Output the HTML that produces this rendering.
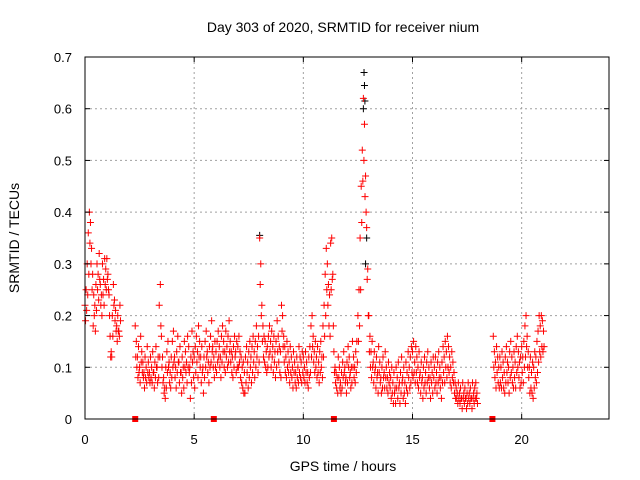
<!DOCTYPE html>
<html><head><meta charset="utf-8"><style>
body{margin:0;background:#fff}
svg{display:block;font-family:"Liberation Sans",sans-serif}
</style></head><body>
<svg id="chart" width="640" height="480">
<text x="343" y="32" font-size="14" text-anchor="middle">Day 303 of 2020, SRMTID for receiver nium</text>
<text x="343" y="471" font-size="14" text-anchor="middle">GPS time / hours</text>
<text transform="translate(19,238) rotate(-90)" font-size="14" text-anchor="middle">SRMTID / TECUs</text>
<g id="grid"></g><g id="marks"></g><g id="axes"></g>
</svg>
<script>
const hourStarts=[0,1,2.3,3,4,5,6,7,8,9,10,11,12,13,14,15,16,17,18.7,19,20,21];
const seriesA=[
[.22,.25,.30,.36,.40,.38,.33,.28,.24,.22,.26,.30,.28,.32,.26,.24,.30,.27,.31,.29],
[.31,.28,.24,.16,.13,.20,.26,.23,.21,.18,.20,.17,.22],
[.18,.15,.12,.14,.10,.16,.13,.11,.09,.12,.10,.14,.11,.09],
[.12,.10,.13,.09,.11,.14,.10,.12,.22,.26,.16,.12,.08,.06,.10,.13,.15,.11,.09,.12],
[.15,.17,.12,.10,.13,.16,.11,.14,.09,.12,.10,.15,.13,.11,.16,.14,.10,.12,.17,.13],
[.12,.14,.16,.13,.18,.15,.12,.14,.10,.12,.15,.17,.13,.11,.14,.16,.19,.14,.12,.15],
[.13,.15,.17,.14,.12,.16,.18,.15,.13,.17,.14,.16,.19,.15,.13,.12,.14,.16,.13,.15],
[.14,.16,.13,.12,.10,.11,.09,.12,.14,.11,.13,.15,.12,.14,.16,.13,.15,.18,.14,.16],
[.35,.30,.22,.18,.16,.15,.13,.14,.16,.18,.15,.17,.14,.16,.13,.15,.19,.16,.14,.13],
[.22,.20,.16,.14,.12,.15,.13,.11,.14,.12,.10,.13,.11,.09,.12,.10,.14,.12,.11,.13],
[.12,.10,.13,.11,.09,.12,.14,.18,.20,.16,.13,.15,.12,.14,.11,.13,.15,.12,.18,.22],
[.28,.33,.30,.26,.24,.34,.35,.28,.13,.10,.09,.08,.12,.10,.07,.09,.11,.13,.10,.08],
[.11,.14,.12,.09,.10,.15,.12,.10,.13,.15,.20,.25,.35,.45,.52,.62,.57,.47,.37,.29],
[.20,.16,.13,.15,.11,.13,.10,.12,.09,.14,.11,.08,.10,.12,.09,.13,.10,.08,.11,.09],
[.08,.10,.07,.09,.06,.10,.08,.11,.07,.09,.12,.08,.10,.07,.11,.09,.13,.10,.12,.14],
[.13,.15,.11,.14,.12,.10,.13,.09,.11,.08,.10,.12,.09,.11,.13,.10,.08,.11,.09,.12],
[.10,.12,.09,.11,.13,.10,.08,.11,.14,.12,.15,.13,.16,.14,.12,.10,.13,.11,.09,.07],
[.06,.05,.07,.05,.06,.04,.07,.05,.06,.04,.05,.07,.05,.06,.04,.07,.05,.06,.07,.05],
[.16,.13,.11,.14,.12,.10],
[.12,.10,.13,.11,.09,.12,.14,.11,.10,.13,.15,.12,.10,.13,.11,.14,.16,.13,.11,.12],
[.14,.12,.15,.18,.20,.16,.13,.10,.12,.09,.11,.10,.13,.12,.15,.17,.20,.18,.20,.19],
[.17]];
const seriesB=[
[.19,.21,.24,.28,.34,.30,.25,.18,.20,.17,.21,.25,.23,.27,.22,.20,.24,.22,.26,.25],
[.27,.25,.20,.12,.12,.16,.22,.19,.17,.15,.17,.16,.19],
[.12,.10,.08,.09,.07,.11,.09,.08,.06,.08,.07,.09,.08,.07],
[.08,.07,.09,.06,.08,.10,.07,.08,.12,.18,.10,.07,.05,.04,.06,.09,.10,.07,.06,.08],
[.10,.11,.08,.06,.09,.11,.07,.09,.05,.08,.06,.10,.09,.07,.10,.09,.04,.07,.11,.08],
[.06,.09,.11,.08,.12,.10,.07,.09,.05,.08,.10,.12,.09,.07,.10,.11,.13,.10,.08,.10],
[.09,.11,.12,.10,.08,.11,.13,.10,.09,.12,.10,.11,.13,.11,.09,.08,.10,.12,.09,.10],
[.10,.11,.08,.07,.06,.05,.05,.07,.09,.06,.08,.10,.07,.09,.11,.08,.10,.12,.09,.11],
[.26,.20,.15,.12,.11,.10,.09,.10,.12,.13,.10,.12,.09,.11,.08,.10,.13,.11,.09,.08],
[.17,.14,.11,.09,.08,.10,.09,.07,.09,.08,.06,.09,.07,.06,.08,.07,.09,.08,.07,.09],
[.08,.07,.09,.07,.06,.08,.09,.12,.14,.11,.09,.10,.08,.09,.07,.09,.10,.08,.12,.16],
[.20,.25,.22,.18,.16,.25,.27,.18,.09,.07,.06,.05,.08,.06,.05,.06,.08,.09,.07,.05],
[.07,.10,.08,.06,.07,.10,.08,.07,.09,.11,.15,.18,.25,.38,.46,.50,.43,.40,.27,.20],
[.13,.10,.08,.10,.07,.09,.06,.08,.05,.09,.07,.05,.06,.08,.06,.08,.06,.05,.07,.06],
[.04,.05,.03,.05,.03,.06,.04,.06,.03,.05,.07,.04,.05,.03,.06,.05,.08,.06,.07,.09],
[.08,.09,.07,.09,.07,.06,.08,.05,.07,.04,.06,.07,.05,.07,.08,.06,.04,.07,.05,.08],
[.06,.07,.05,.07,.08,.06,.04,.07,.09,.07,.10,.08,.10,.09,.07,.06,.08,.07,.05,.04],
[.04,.03,.04,.03,.04,.02,.04,.03,.04,.02,.03,.04,.03,.04,.02,.04,.03,.04,.04,.03],
[.10,.08,.06,.09,.07,.06],
[.07,.06,.08,.06,.05,.07,.09,.07,.05,.08,.09,.07,.06,.08,.06,.09,.10,.08,.06,.07],
[.09,.07,.10,.12,.14,.10,.08,.05,.06,.05,.04,.06,.08,.07,.09,.11,.13,.12,.14,.13],
[.14]];
const blackTimes=[12.78,12.8,12.82,12.75,12.85,8.0,12.9];
const blackValues=[0.67,0.645,0.615,0.6,0.3,0.355,0.35];
const gapTimes=[2.3,5.9,11.4,18.66];
const xTicks=[0,5,10,15,20];
const yTicks=[0,0.1,0.2,0.3,0.4,0.5,0.6,0.7];
const yTickLabels=["0","0.1","0.2","0.3","0.4","0.5","0.6","0.7"];
const STEP=0.05;

const L=85,R=609,T=57,B=419;
const xs=h=>L+h/24*(R-L);
const ys=v=>B-v/0.7*(B-T);
const NS="http://www.w3.org/2000/svg";
function mk(tag,attrs,parent){const e=document.createElementNS(NS,tag);for(const k in attrs)e.setAttribute(k,attrs[k]);parent.appendChild(e);return e;}
const grid=document.getElementById('grid'),marks=document.getElementById('marks'),axes=document.getElementById('axes');
xTicks.forEach(t=>{
  if(t>0){const g=mk('line',{x1:xs(t),x2:xs(t),y1:T,y2:B,stroke:'#a0a0a0','stroke-dasharray':'2,3'},grid);
  
  }
  const tx=mk('text',{x:xs(t),y:B+25,'font-size':13,'text-anchor':'middle'},axes);tx.textContent=t;
  
  
  mk('line',{x1:xs(t),x2:xs(t),y1:B,y2:B-5,stroke:'#000'},axes);
  mk('line',{x1:xs(t),x2:xs(t),y1:T,y2:T+5,stroke:'#000'},axes);
});
yTicks.forEach((t,i)=>{
  if(t>0&&t<0.7){const g=mk('line',{x1:L,x2:R,y1:ys(t),y2:ys(t),stroke:'#a0a0a0','stroke-dasharray':'2,3'},grid);
  
  }
  const tx=mk('text',{x:L-13,y:ys(t)+5,'font-size':13,'text-anchor':'end'},axes);tx.textContent=yTickLabels[i];
  
  
  mk('line',{x1:L,x2:L+5,y1:ys(t),y2:ys(t),stroke:'#000'},axes);
  mk('line',{x1:R,x2:R-5,y1:ys(t),y2:ys(t),stroke:'#000'},axes);
});
const frame=mk('rect',{x:L,y:T,width:R-L,height:B-T,fill:'none',stroke:'#000'},axes);


function plus(h,v,color,name){
  const x=xs(h),y=ys(v);
  const p=mk('path',{d:`M${x-3.5} ${y}h7M${x} ${y-3.5}v7`,stroke:color,'stroke-width':1,fill:'none'},marks);
  
  
}
blackTimes.forEach((t,i)=>plus(t,blackValues[i],'#000','black-point'));
hourStarts.forEach((s,hi)=>{
  seriesA[hi].forEach((v,j)=>plus(s+j*STEP,v,'#f00','srmtid-point'));
  seriesB[hi].forEach((v,j)=>plus(s+j*STEP+STEP/2,v,'#f00','srmtid-point'));
});
gapTimes.forEach(t=>{
  const r=mk('rect',{x:xs(t)-3,y:B-3,width:6,height:6,fill:'#f00'},marks);
  
  
});
</script>
</body></html>
